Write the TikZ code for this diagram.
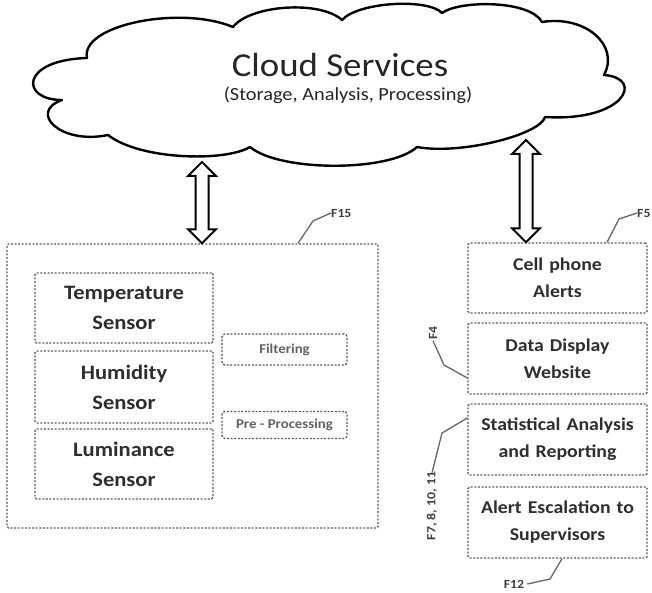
\documentclass[tikz,border=0pt]{standalone}
\usepackage{fontspec}
\setmainfont{Carlito}[FakeStretch=1.1]
\usetikzlibrary{calc}
\begin{document}
\begin{tikzpicture}[x=1pt,y=-1pt,
  dotbox/.style={draw=black!65, line width=1.4pt, dash pattern=on 2pt off 1.6pt,
    rounded corners=1.5pt, inner sep=0pt},
  sensorbox/.style={dotbox, minimum width=178pt, text width=172pt, align=center,
    font=\fontsize{20.5}{30}\selectfont\bfseries, text=black!82},
  appbox/.style={dotbox, minimum width=179pt, text width=176pt, align=center,
    font=\fontsize{18}{27}\selectfont\bfseries, text=black!82},
  procbox/.style={dotbox, rounded corners=3pt, minimum width=125pt, align=center,
    font=\fontsize{13.5}{16}\selectfont\bfseries, text=black!62},
  flabel/.style={font=\fontsize{12.5}{14}\selectfont\bfseries, text=black!75, inner sep=0pt},
  leader/.style={draw=black!60, line width=1.3pt},
  dblarrow/.style={draw=black, line width=2pt, fill=white, line join=miter}
]
\useasboundingbox (0,0) rectangle (652,593);
\clip (0,0) rectangle (652,593);

% cloud
\draw[line width=2.4pt, fill=white, line join=round]
  (87,58) .. controls (80,25) and (180,5) .. (233,27)
  .. controls (250,5) and (320,0) .. (342,20)
  .. controls (358,2) and (428,-2) .. (442,13)
  .. controls (460,0) and (530,0) .. (542,22)
  .. controls (585,15) and (620,45) .. (604,75)
  .. controls (645,78) and (625,122) .. (545,117)
  .. controls (540,135) and (460,155) .. (417,147)
  .. controls (390,172) and (280,172) .. (250,147)
  .. controls (225,162) and (140,160) .. (108,135)
  .. controls (60,145) and (28,112) .. (62,100)
  .. controls (20,100) and (20,60) .. (87,58) -- cycle;
\node[font=\fontsize{33.5}{36}\selectfont, text=black!85, inner sep=0pt] (cloudtitle) at (340,65) {Cloud Services};
\node[font=\fontsize{18.5}{20}\selectfont, text=black!85, inner sep=0pt] (cloudsub) at (348,95) {(Storage, Analysis, Processing)};

% left group
\node[dotbox, minimum width=371pt, minimum height=284pt] (sensors) at (192.5,386) {};
\node[sensorbox, minimum height=70pt] (temp) at (124,308) {Temperature\\Sensor};
\node[sensorbox, minimum height=72pt] (hum) at (124,387) {Humidity\\Sensor};
\node[sensorbox, minimum height=70pt] (lum) at (124,464) {Luminance\\Sensor};
\node[procbox, minimum height=31pt] (filt) at (284.5,349.5) {Filtering};
\node[procbox, minimum height=27pt] (prep) at (284.5,425) {Pre - Processing};

% right group
\node[appbox, minimum height=70pt] (cell) at (557.5,278) {Cell phone\\Alerts};
\node[appbox, minimum height=71pt] (web) at (557.5,358.5) {Data Display\\Website};
\node[appbox, minimum height=71pt] (stat) at (557.5,439.5) {Statistical Analysis\\and Reporting};
\node[appbox, minimum height=71pt] (esc) at (557.5,522.5) {Alert Escalation to\\Supervisors};

% double arrows
\coordinate (la1) at (202,162);
\coordinate (la2) at (sensors.north -| la1);
\coordinate (ra1) at (526,140);
\coordinate (ra2) at (cell.north -| ra1);
\draw[dblarrow] (la1) -- ($(la1)+(14,14)$) -- ($(la1)+(6.5,14)$) -- ($(la2)+(6.5,-14)$)
  -- ($(la2)+(14,-14)$) -- (la2) -- ($(la2)+(-14,-14)$) -- ($(la2)+(-6.5,-14)$)
  -- ($(la1)+(-6.5,14)$) -- ($(la1)+(-14,14)$) -- cycle;
\draw[dblarrow] (ra1) -- ($(ra1)+(14,14)$) -- ($(ra1)+(6.5,14)$) -- ($(ra2)+(6.5,-14)$)
  -- ($(ra2)+(14,-14)$) -- (ra2) -- ($(ra2)+(-14,-14)$) -- ($(ra2)+(-6.5,-14)$)
  -- ($(ra1)+(-6.5,14)$) -- ($(ra1)+(-14,14)$) -- cycle;

% labels
\node[flabel, anchor=west] (f15) at (331,213) {F15};
\node[flabel, anchor=west] (f5) at (637,213) {F5};
\node[flabel, rotate=90] (f4) at (433,333) {F4};
\node[flabel, rotate=90] (f7) at (432,506) {F7, 8, 10, 11};
\node[flabel] (f12) at (514,584) {F12};

% leader lines
\draw[leader] (sensors.north -| 298,0) -- (313,221) -- (f15.west);
\draw[leader] (cell.north -| 607,0) -- (619,219) -- (f5.west);
\draw[leader] ([yshift=-19.5pt]web.west) -- (444,365) -- ([yshift=-1pt]f4.west);
\draw[leader] ([yshift=21.5pt]stat.west) -- (442,433) -- ([yshift=-1pt]f7.east);
\draw[leader] (esc.south -| 562,0) -- (550,579) -- ([xshift=3pt]f12.east);
\end{tikzpicture}
\end{document}
